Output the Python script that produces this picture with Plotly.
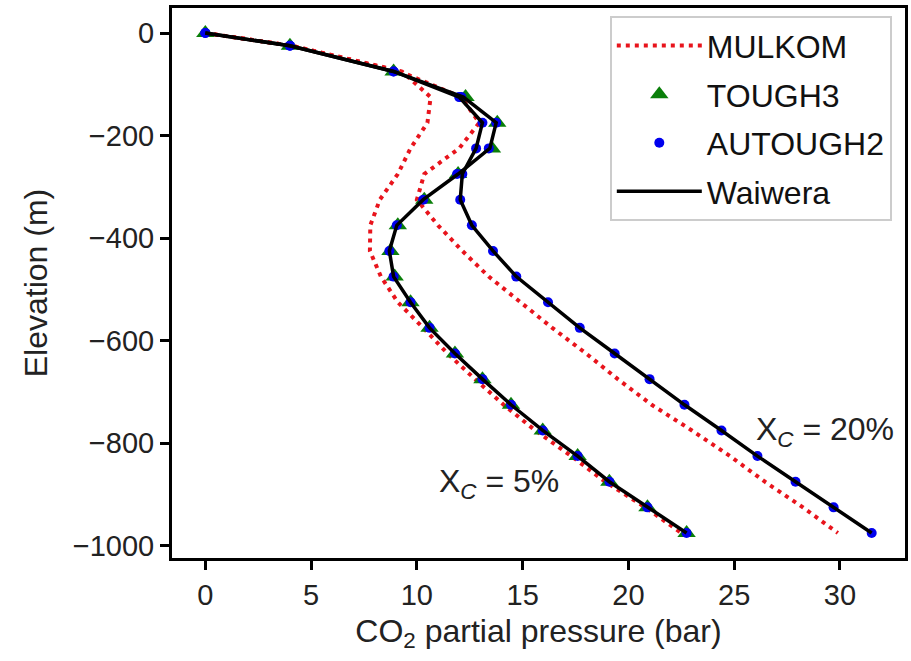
import plotly.graph_objects as go

elev = [0, -25, -75, -125, -175, -225, -275, -325, -375, -425, -475, -525,
        -575, -625, -675, -725, -775, -825, -875, -925, -975]

# X_C = 5%
waiwera_5 = [0, 4.0, 8.9, 12.2, 13.75, 13.45, 11.95, 10.3, 9.05, 8.7, 8.9, 9.7,
             10.6, 11.8, 13.1, 14.45, 15.95, 17.6, 19.1, 20.9, 22.75]
tough3_5 = [0, 4.0, 8.9, 12.3, 13.8, 13.55, 11.95, 10.35, 9.1, 8.75, 8.95, 9.7,
            10.6, 11.8, 13.1, 14.45, 15.95, 17.6, 19.1, 20.9, 22.75]
autough2_5 = [0, 4.0, 8.9, 12.1, 13.75, 13.4, 11.9, 10.3, 9.05, 8.7, 8.9, 9.7,
              10.6, 11.8, 13.1, 14.45, 15.95, 17.6, 19.1, 20.9, 22.75]
mulkom_5 = [0, 4.1, 9.3, 10.65, 10.5, 9.7, 9.1, 8.25, 7.8, 7.78, 8.3, 9.1,
            10.3, 11.45, 12.75, 14.1, 15.6, 17.3, 18.9, 20.8, 22.5]

# X_C = 20%
waiwera_20 = [0, 4.0, 8.9, 12.0, 13.1, 12.8, 12.15, 12.05, 12.6, 13.6, 14.7, 16.2,
              17.7, 19.35, 21.0, 22.65, 24.4, 26.1, 27.9, 29.7, 31.5]
autough2_20 = [0, 4.0, 8.9, 12.0, 13.1, 12.8, 12.15, 12.05, 12.6, 13.6, 14.7, 16.2,
               17.7, 19.35, 21.0, 22.65, 24.4, 26.1, 27.9, 29.7, 31.5]
mulkom_20 = [0, 4.1, 9.2, 12.1, 12.95, 12.0, 10.35, 10.0, 11.0, 12.15, 13.4, 14.9,
             16.4, 18.0, 19.5, 21.1, 23.0, 24.8, 26.45, 28.25, 29.9]

x_ticks = [0, 5, 10, 15, 20, 25, 30]
y_ticks = [0, -200, -400, -600, -800, -1000]

FONT = "Liberation Sans, Arial, sans-serif"
RED = "#e8141c"
FS_TICK = 29
FS_TEXT = 32

fig = go.Figure()

# MULKOM
for i, xs in enumerate([mulkom_5, mulkom_20]):
    fig.add_trace(go.Scatter(
        x=xs, y=elev, mode="lines", name="MULKOM",
        line=dict(color=RED, width=4, dash="4px,5px"),
        legendgroup="mulkom", showlegend=(i == 0)))

# TOUGH3 (5% only)
fig.add_trace(go.Scatter(
    x=tough3_5, y=elev, mode="markers", name="TOUGH3",
    marker=dict(symbol="triangle-up", size=16, color="#0a7f0a", line=dict(width=0)),
    legendgroup="tough3"))

# AUTOUGH2
for i, xs in enumerate([autough2_5, autough2_20]):
    fig.add_trace(go.Scatter(
        x=xs, y=elev, mode="markers", name="AUTOUGH2",
        marker=dict(symbol="circle", size=10, color="#0000ee", line=dict(width=0)),
        legendgroup="autough2", showlegend=(i == 0)))

# Waiwera
for i, xs in enumerate([waiwera_5, waiwera_20]):
    fig.add_trace(go.Scatter(
        x=xs, y=elev, mode="lines", name="Waiwera",
        line=dict(color="black", width=3.5),
        legendgroup="waiwera", showlegend=(i == 0)))

fig.add_annotation(x=29.3, y=-778, xref="x", yref="y", showarrow=False,
                   text="X<sub><i>C</i></sub> = 20%",
                   font=dict(family=FONT, size=FS_TEXT, color="#222"), xanchor="center")
fig.add_annotation(x=13.9, y=-878, xref="x", yref="y", showarrow=False,
                   text="X<sub><i>C</i></sub> = 5%",
                   font=dict(family=FONT, size=FS_TEXT, color="#222"), xanchor="center")

axis_common = dict(
    showline=True, linecolor="black", linewidth=3, mirror=True,
    ticks="outside", ticklen=9, tickwidth=3, tickcolor="black",
    showgrid=False, zeroline=False,
    tickfont=dict(family=FONT, size=FS_TICK, color="#222"),
)

fig.update_xaxes(range=[-1.575, 33.075], tickvals=x_ticks,
                 title=dict(text="CO<sub>2</sub> partial pressure (bar)",
                            font=dict(family=FONT, size=FS_TEXT, color="#222"), standoff=10),
                 **axis_common)
fig.update_yaxes(range=[-1023.75, 48.75], tickvals=y_ticks,
                 title=dict(text="Elevation (m)",
                            font=dict(family=FONT, size=FS_TEXT, color="#222"), standoff=16),
                 **axis_common)

fig.update_layout(
    width=911, height=661,
    margin=dict(l=172, r=3, t=8, b=103),
    plot_bgcolor="white", paper_bgcolor="white",
    font=dict(family=FONT, size=FS_TEXT, color="#222"),
    legend=dict(x=0.982, y=0.985, xanchor="right", yanchor="top",
                bgcolor="rgba(255,255,255,0.9)", bordercolor="#cccccc", borderwidth=2,
                font=dict(family=FONT, size=FS_TEXT, color="#111"),
                tracegroupgap=4, itemwidth=85),
)

fig.write_html("out.html")
